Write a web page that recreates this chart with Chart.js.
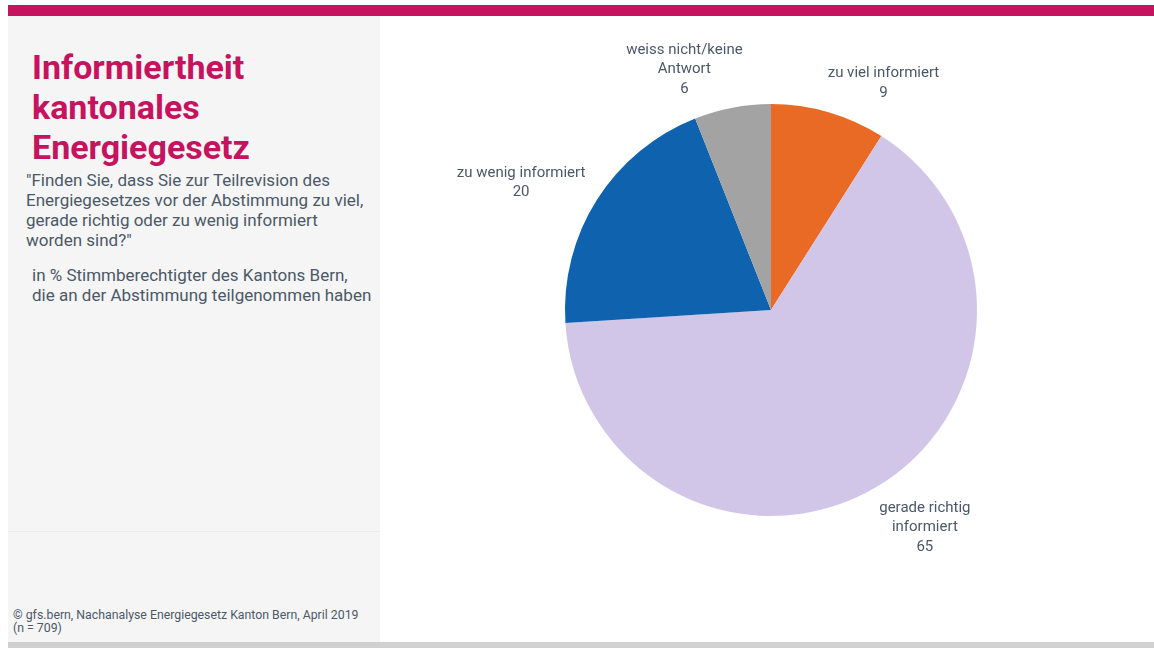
<!DOCTYPE html>
<html>
<head>
<meta charset="utf-8">
<script src="https://cdn.jsdelivr.net/npm/chart.js@4.4.1/dist/chart.umd.min.js"></script>
<style>
  html, body { margin: 0; padding: 0; background: #fff; }
  body { width: 1154px; height: 648px; position: relative; overflow: hidden; font-family: Roboto, "Open Sans", sans-serif; }
  #topbar { position: absolute; left: 8px; top: 5px; width: 1146px; height: 11px; background: #c5135f; }
  #side { position: absolute; left: 8px; top: 16px; width: 372px; height: 626px; background: #f5f5f5; }
  #sep { position: absolute; left: 0; top: 515px; width: 372px; height: 1px; background: #ececec; }
  #bottombar { position: absolute; left: 8px; top: 642px; width: 1146px; height: 6px; background: #d0d0d0; }
  #title { position: absolute; left: 32px; top: 47px; color: #c5135f; font-weight: 700; font-size: 34px; line-height: 40px; }
  #question { position: absolute; left: 26px; top: 170px; color: #4b5867; font-size: 17px; line-height: 20px; }
  #base { position: absolute; left: 32px; top: 265px; color: #4b5867; font-size: 17px; line-height: 20px; }
  #source { position: absolute; left: 13px; top: 609px; color: #4b5867; font-size: 12.3px; line-height: 13px; }
  #wrap { position: absolute; left: 380px; top: 16px; width: 774px; height: 624px; }
</style>
</head>
<body>
<div id="topbar"></div>
<div id="side"><div id="sep"></div></div>
<div id="bottombar"></div>
<div id="title">Informiertheit<br>kantonales<br>Energiegesetz</div>
<div id="question">"Finden Sie, dass Sie zur Teilrevision des<br>Energiegesetzes vor der Abstimmung zu viel,<br>gerade richtig oder zu wenig informiert<br>worden sind?"</div>
<div id="base">in % Stimmberechtigter des Kantons Bern,<br>die an der Abstimmung teilgenommen haben</div>
<div id="source">© gfs.bern, Nachanalyse Energiegesetz Kanton Bern, April 2019<br>(n = 709)</div>
<div id="wrap"><canvas id="pie"></canvas></div>

<script>
// answer categories, clockwise from 12 o'clock
const categories = [
    ['zu viel informiert'],
    ['gerade richtig', 'informiert'],
    ['zu wenig informiert'],
    ['weiss nicht/keine', 'Antwort']
];
const shares = [9, 65, 20, 6];
const sliceColors = ['#e86a24', '#d1c6e8', '#0e62ae', '#a3a3a3'];

// outside labels: anchored at the slice's outer edge, then nudged
const labelOffsets = [[55, -29], [49, 40], [-76, -17], [-48, -38]];

const outsideLabels = {
    id: 'outsideLabels',
    afterDatasetsDraw(chart) {
        const ctx = chart.ctx;
        const meta = chart.getDatasetMeta(0);
        ctx.save();
        ctx.font = '15px Roboto, sans-serif';
        ctx.fillStyle = '#4b5867';
        ctx.textAlign = 'center';
        ctx.textBaseline = 'middle';
        meta.data.forEach(function (arc, i) {
            const p = arc.getProps(['x', 'y', 'startAngle', 'endAngle', 'outerRadius'], true);
            const mid = (p.startAngle + p.endAngle) / 2;
            const ex = p.x + Math.cos(mid) * p.outerRadius + labelOffsets[i][0];
            const ey = p.y + Math.sin(mid) * p.outerRadius + labelOffsets[i][1];
            const lines = chart.data.labels[i].concat([String(chart.data.datasets[0].data[i])]);
            const lh = 19.5;
            const top = ey - (lines.length - 1) * lh / 2;
            lines.forEach(function (t, j) {
                ctx.fillText(t, ex, top + j * lh);
            });
        });
        ctx.restore();
    }
};

const ctx = document.getElementById('pie').getContext('2d');
const pieChart = new Chart(ctx, {
    type: 'pie',
    data: {
        labels: categories,
        datasets: [{
            data: shares,
            backgroundColor: sliceColors,
            borderWidth: 0
        }]
    },
    options: {
        responsive: true,
        maintainAspectRatio: false,
        animation: false,
        layout: { padding: { top: 88, bottom: 124, left: 91, right: 83 } },
        plugins: {
            legend: { display: false },
            tooltip: { enabled: false }
        }
    },
    plugins: [outsideLabels]
});
</script>
</body>
</html>
